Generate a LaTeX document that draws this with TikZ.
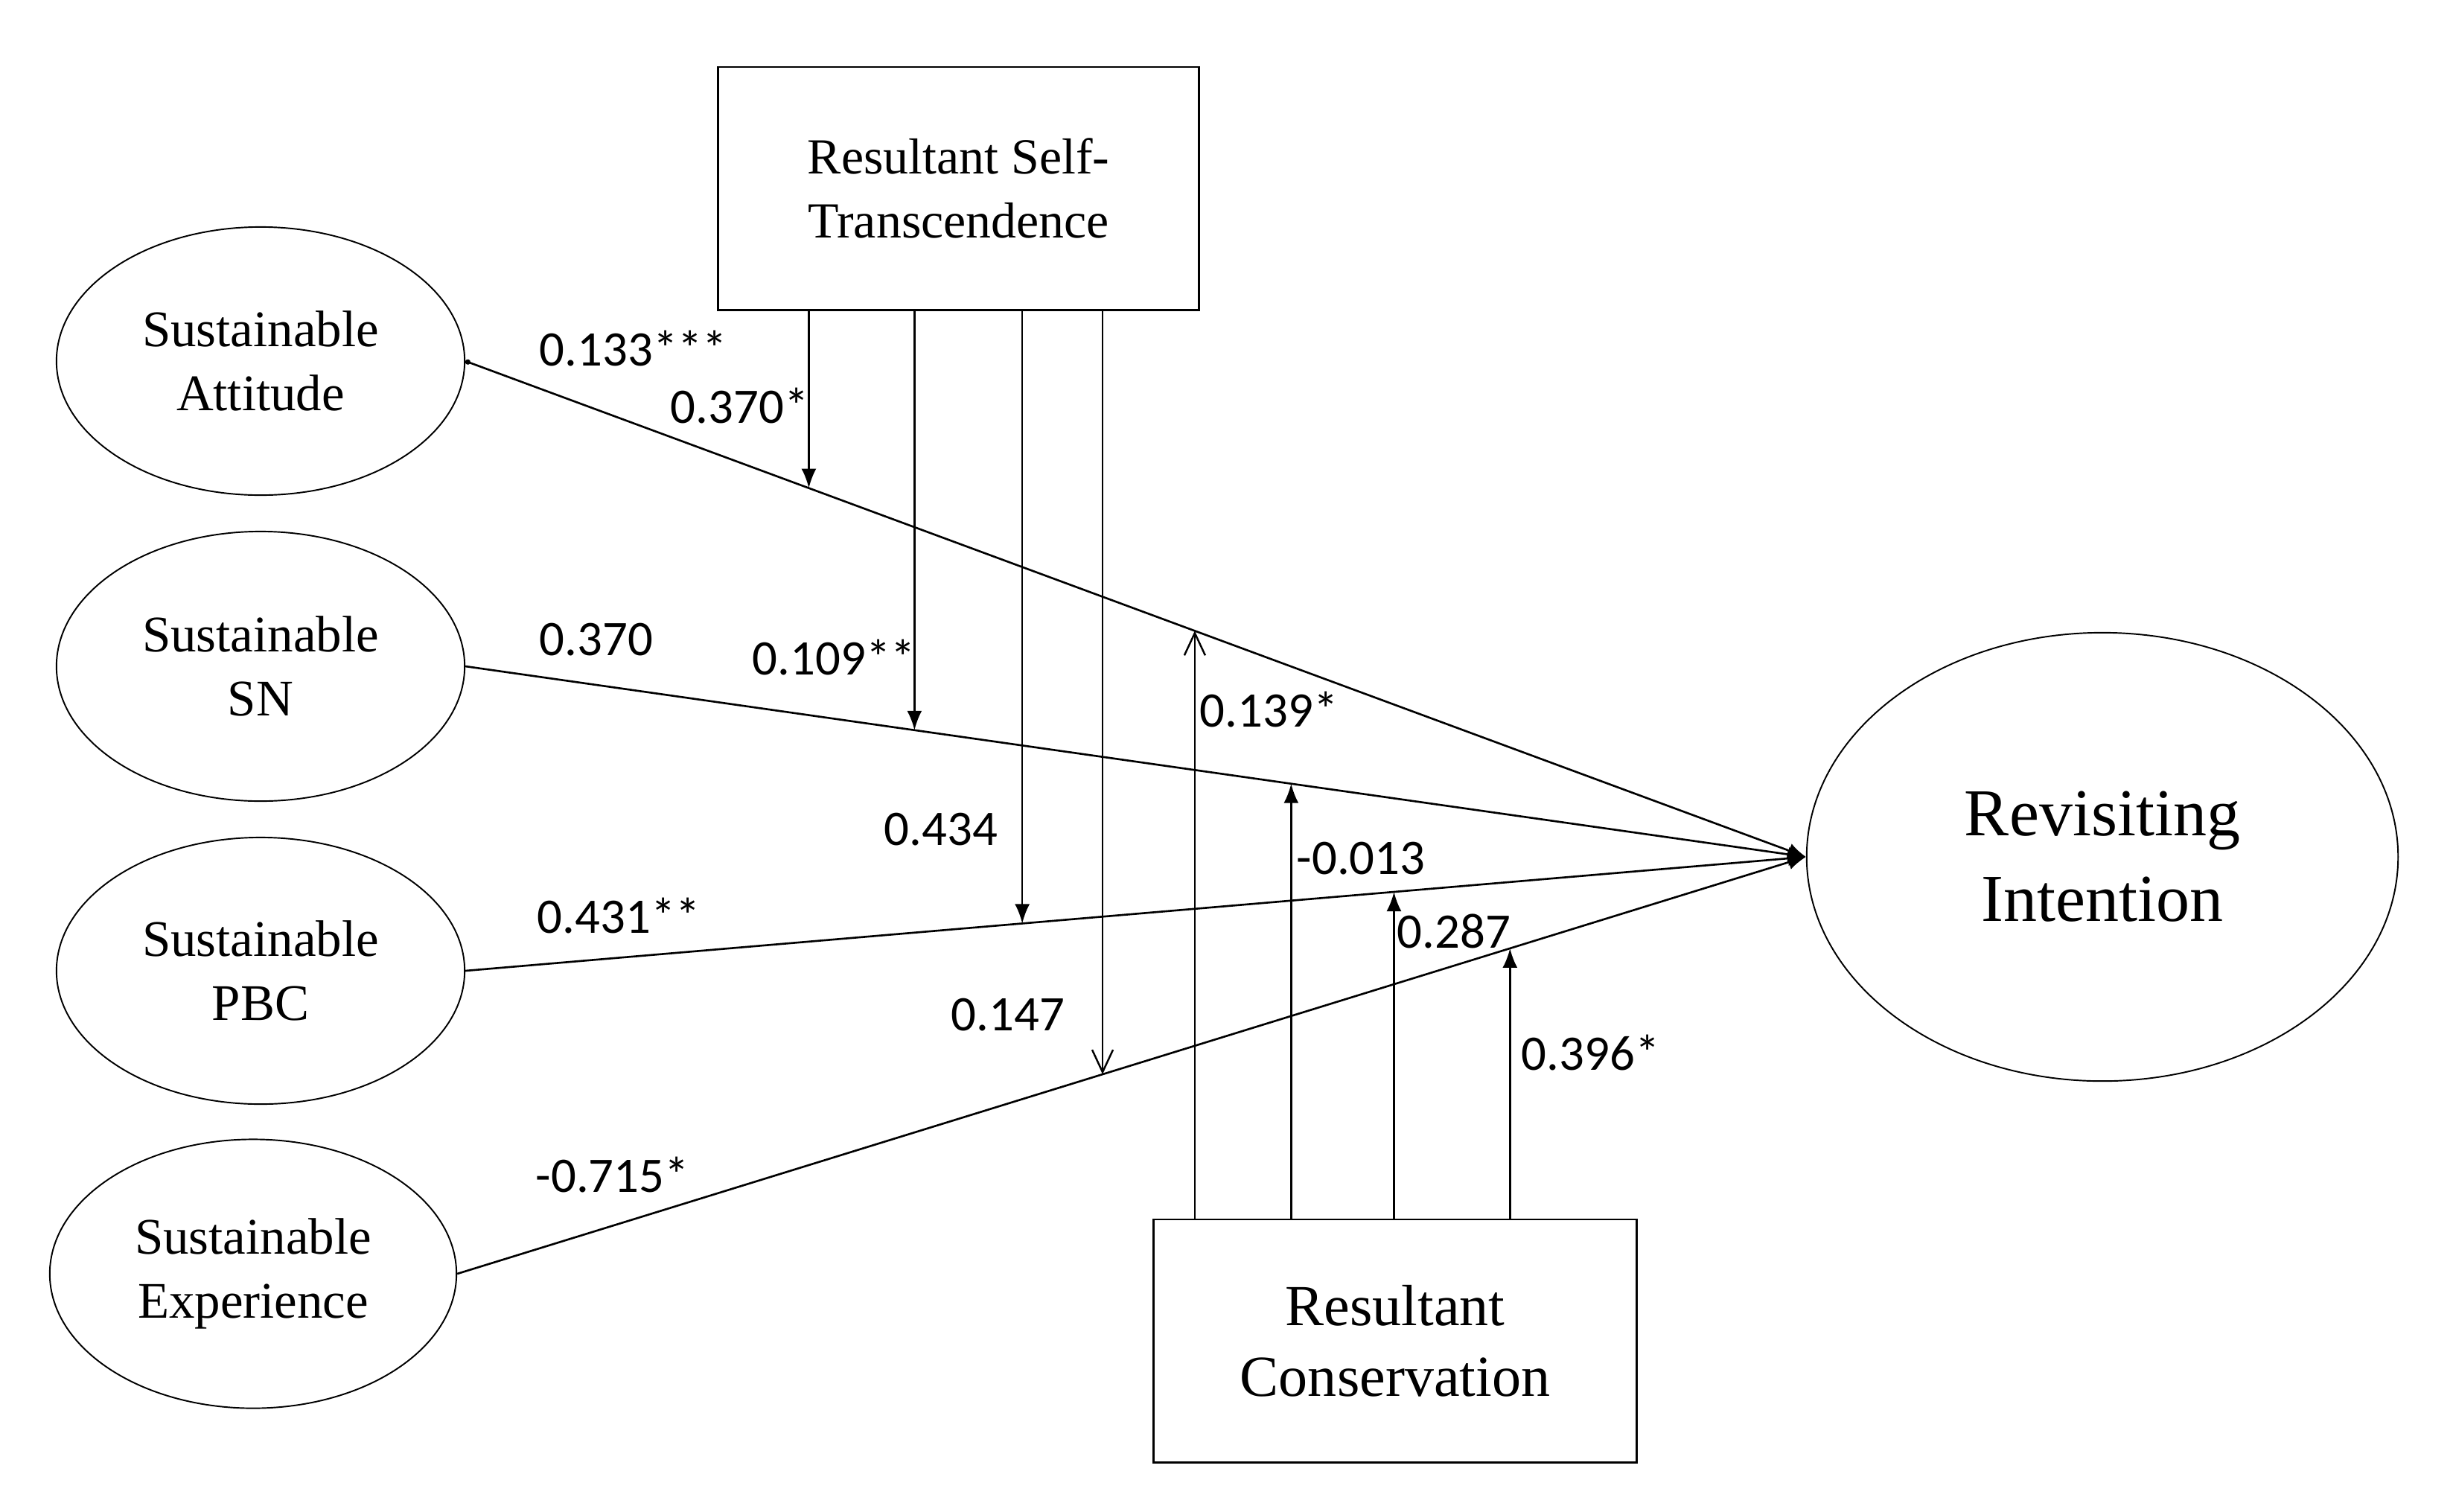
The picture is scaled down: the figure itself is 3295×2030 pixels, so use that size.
\documentclass[tikz,border=0pt]{standalone}
\usepackage{fontspec}
\setmainfont{Liberation Serif}
\newfontfamily\numfont{Carlito}
\usetikzlibrary{shapes.geometric,arrows.meta,calc}
\begin{document}
\begin{tikzpicture}[x=0.01cm,y=-0.01cm,
  ell/.style={draw,ellipse,inner sep=0pt,line width=0.55pt,align=center,
    font=\fontsize{19.6pt}{24.4pt}\selectfont},
  box/.style={draw,rectangle,inner sep=0pt,line width=0.8pt,align=center},
  lbl/.style={anchor=base west,inner sep=0pt,font=\numfont\fontsize{19pt}{23pt}\selectfont},
  link/.style={line width=0.75pt,-{Latex[length=0.24cm,width=0.2cm]}},
  modarrow/.style={line width=0.75pt,-{Latex[length=0.26cm,width=0.2cm]}},
  modopen/.style={line width=0.7pt,-{Straight Barb[length=0.3cm,width=0.28cm]}},
]
\useasboundingbox (0,0) rectangle (3295,2030);

% ellipses
\node[ell,minimum width=5.48cm,minimum height=3.6cm] (sa) at (350,485) {Sustainable\\Attitude};
\node[ell,minimum width=5.48cm,minimum height=3.62cm] (sn) at (350,895) {Sustainable\\SN};
\node[ell,minimum width=5.48cm,minimum height=3.58cm] (sp) at (350,1304) {Sustainable\\PBC};
\node[ell,minimum width=5.46cm,minimum height=3.61cm] (se) at (340,1711) {Sustainable\\Experience};
\node[ell,minimum width=7.94cm,minimum height=6.02cm,
  font=\fontsize{25.6pt}{32.7pt}\selectfont] (ri) at (2824,1151) {Revisiting\\Intention};

% boxes
\node[box,minimum width=6.45cm,minimum height=3.26cm,
  font=\fontsize{19.3pt}{24.5pt}\selectfont] (st) at (1287.5,253) {Resultant Self-\\Transcendence};
\node[box,minimum width=6.48cm,minimum height=3.26cm,
  font=\fontsize{22.2pt}{27pt}\selectfont] (sc) at (1874,1801) {Resultant\\Conservation};

% main paths
\draw[line width=0.75pt,{Circle[length=0.07cm]}-{Latex[length=0.24cm,width=0.2cm]}] (sa.east) -- (ri.west);
\draw[link] (sn.east) -- (ri.west);
\draw[link] (sp.east) -- (ri.west);
\draw[link] (se.east) -- (ri.west);

% moderation points
\coordinate (a1) at ($(sa.east)!0.2562!(ri.west)$);
\coordinate (a2) at ($(sn.east)!0.335!(ri.west)$);
\coordinate (a3) at ($(sp.east)!0.4154!(ri.west)$);
\coordinate (a4) at ($(se.east)!0.4785!(ri.west)$);
\coordinate (b1) at ($(sa.east)!0.5441!(ri.west)$);
\coordinate (b2) at ($(sn.east)!0.616!(ri.west)$);
\coordinate (b3) at ($(sp.east)!0.6927!(ri.west)$);
\coordinate (b4) at ($(se.east)!0.7806!(ri.west)$);

\draw[modarrow] (st.south -| a1) -- (a1);
\draw[modarrow] (st.south -| a2) -- (a2);
\draw[modarrow] (st.south -| a3) -- (a3);
\draw[modopen] (st.south -| a4) -- (a4);
\draw[modopen] (sc.north -| b1) -- (b1);
\draw[modarrow] (sc.north -| b2) -- (b2);
\draw[modarrow] (sc.north -| b3) -- (b3);
\draw[modarrow] (sc.north -| b4) -- (b4);

% labels
\node[lbl] (l1) at (724,491) {0.133***};
\node[lbl] (l2) at (900,568) {0.370*};
\node[lbl] (l3) at (724,880) {0.370};
\node[lbl] (l4) at (1010,906) {0.109**};
\node[lbl] (l5) at (1611,976) {0.139*};
\node[lbl] (l6) at (1187,1135) {0.434};
\node[lbl] (l7) at (721,1253) {0.431**};
\node[lbl] (l8) at (1277,1384) {0.147};
\node[lbl] (l9) at (719,1601) {-0.715*};
\node[lbl] (l10) at (1741,1174) {-0.013};
\node[lbl] (l11) at (1876,1273) {0.287};
\node[lbl] (l12) at (2043,1437) {0.396*};
\end{tikzpicture}
\end{document}
